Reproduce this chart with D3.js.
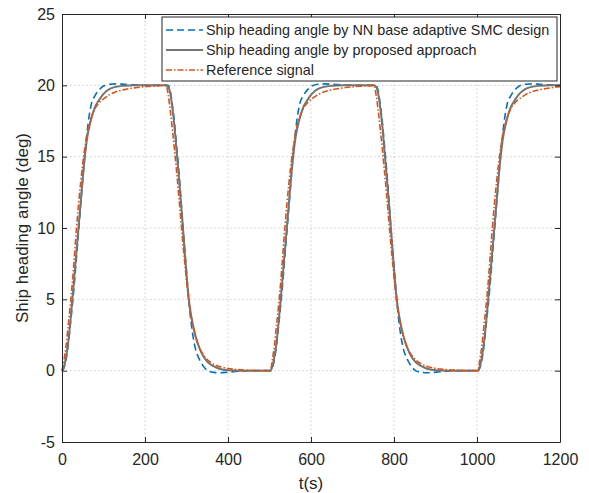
<!DOCTYPE html>
<html>
<head>
<meta charset="utf-8">
<script src="https://cdn.jsdelivr.net/npm/d3@7"></script>
<style>
  body { margin: 0; background: #fff; }
  svg { font-family: "Liberation Sans", Arial, sans-serif; }
</style>
</head>
<body>
<div id="chart"></div>
<script>
// time axis (s), shared by the three series
const timeS = [
  0, 5, 10, 15, 20, 25, 30, 35, 40, 45, 50, 55, 60, 70, 80, 90, 100, 115, 130, 150, 175, 200, 225,
  251, 256, 261, 266, 271, 276, 281, 286, 291, 296, 301, 306, 311, 321, 331, 341, 351, 366, 381, 401, 426, 451, 476,
  502, 507, 512, 517, 522, 527, 532, 537, 542, 547, 552, 557, 562, 572, 582, 592, 602, 617, 632, 652, 677, 702, 727,
  752, 757, 762, 767, 772, 777, 782, 787, 792, 797, 802, 807, 812, 822, 832, 842, 852, 867, 882, 902, 927, 952, 977,
  1002, 1007, 1012, 1017, 1022, 1027, 1032, 1037, 1042, 1047, 1052, 1057, 1062, 1072, 1082, 1092, 1102, 1117, 1132, 1152, 1177, 1200
];

// NN base adaptive SMC design (deg)
const nnSmc = [
  0, 0.2, 0.8, 1.8, 3.2, 4.6, 6.2, 8.0, 9.8, 11.6, 13.4, 15.1, 16.6, 18.6, 19.3, 19.7, 19.95, 20.08, 20.1, 20.07, 20.03, 20, 20,
  20, 20, 19.6, 18.6, 17.4, 15.8, 14.2, 12.3, 10.2, 8.4, 6.6, 4.8, 3.4, 1.6, 0.8, 0.3, 0, -0.12, -0.15, -0.1, -0.04, 0, 0,
  0, 0.2, 0.8, 1.8, 3.2, 4.6, 6.2, 8.0, 9.8, 11.6, 13.4, 15.1, 16.6, 18.6, 19.3, 19.7, 19.95, 20.08, 20.1, 20.07, 20.03, 20, 20,
  20, 20, 19.6, 18.6, 17.4, 15.8, 14.2, 12.3, 10.2, 8.4, 6.6, 4.8, 3.4, 1.6, 0.8, 0.3, 0, -0.12, -0.15, -0.1, -0.04, 0, 0,
  0, 0.2, 0.8, 1.8, 3.2, 4.6, 6.2, 8.0, 9.8, 11.6, 13.4, 15.1, 16.6, 18.6, 19.3, 19.7, 19.95, 20.08, 20.1, 20.07, 20.03, 20
];

// proposed approach (deg)
const proposed = [
  0, 0.3, 1.0, 2.0, 3.4, 5.0, 6.7, 8.4, 10.1, 11.8, 13.5, 15.0, 16.2, 17.6, 18.5, 19.0, 19.4, 19.75, 19.9, 19.97, 20, 20, 20,
  20, 19.9, 19.4, 18.4, 17.1, 15.4, 13.8, 12.0, 10.2, 8.2, 6.4, 4.9, 3.9, 2.5, 1.6, 1.0, 0.6, 0.3, 0.12, 0.03, 0, 0, 0,
  0, 0.3, 1.0, 2.0, 3.4, 5.0, 6.7, 8.4, 10.1, 11.8, 13.5, 15.0, 16.2, 17.6, 18.5, 19.0, 19.4, 19.75, 19.9, 19.97, 20, 20, 20,
  20, 19.9, 19.4, 18.4, 17.1, 15.4, 13.8, 12.0, 10.2, 8.2, 6.4, 4.9, 3.9, 2.5, 1.6, 1.0, 0.6, 0.3, 0.12, 0.03, 0, 0, 0,
  0, 0.3, 1.0, 2.0, 3.4, 5.0, 6.7, 8.4, 10.1, 11.8, 13.5, 15.0, 16.2, 17.6, 18.5, 19.0, 19.4, 19.75, 19.9, 19.97, 20, 20
];

// reference signal (deg)
const reference = [
  0, 0.8, 1.8, 3.2, 4.6, 6.2, 8.1, 10.0, 11.7, 13.2, 14.5, 15.6, 16.5, 17.7, 18.4, 18.8, 19.05, 19.35, 19.55, 19.7, 19.82, 19.9, 19.95,
  20, 19.3, 18.2, 16.9, 15.5, 14.0, 12.4, 10.7, 9.0, 7.5, 6.0, 4.8, 3.8, 2.5, 1.6, 1.1, 0.75, 0.45, 0.28, 0.15, 0.07, 0.03, 0.01,
  0, 0.8, 1.8, 3.2, 4.6, 6.2, 8.1, 10.0, 11.7, 13.2, 14.5, 15.6, 16.5, 17.7, 18.4, 18.8, 19.05, 19.35, 19.55, 19.7, 19.82, 19.9, 19.95,
  20, 19.3, 18.2, 16.9, 15.5, 14.0, 12.4, 10.7, 9.0, 7.5, 6.0, 4.8, 3.8, 2.5, 1.6, 1.1, 0.75, 0.45, 0.28, 0.15, 0.07, 0.03, 0.01,
  0, 0.8, 1.8, 3.2, 4.6, 6.2, 8.1, 10.0, 11.7, 13.2, 14.5, 15.6, 16.5, 17.7, 18.4, 18.8, 19.05, 19.35, 19.55, 19.7, 19.82, 19.9
];

const xTicks = [0, 200, 400, 600, 800, 1000, 1200];
const yTicks = [-5, 0, 5, 10, 15, 20, 25];
const seriesNames = [
  'Ship heading angle by NN base adaptive SMC design',
  'Ship heading angle by proposed approach',
  'Reference signal'
];

const width = 589;
const height = 493;
const margin = { top: 14, right: 29, bottom: 51, left: 62 };

const svg = d3.select('#chart')
  .append('svg')
  .attr('width', width)
  .attr('height', height);

const x = d3.scaleLinear().domain([0, 1200]).range([margin.left, width - margin.right]);
const y = d3.scaleLinear().domain([-5, 25]).range([height - margin.bottom, margin.top]);

const axisColor = '#262626';

// grid
const grid = svg.append('g').attr('stroke', '#cccccc').attr('stroke-width', 1).attr('stroke-dasharray', '1.5,2.5');
grid.selectAll('.gx').data(xTicks.slice(1, -1)).enter().append('line')
  .attr('x1', (d) => x(d)).attr('x2', (d) => x(d))
  .attr('y1', y(-5)).attr('y2', y(25));
grid.selectAll('.gy').data(yTicks.slice(1, -1)).enter().append('line')
  .attr('x1', x(0)).attr('x2', x(1200))
  .attr('y1', (d) => y(d)).attr('y2', (d) => y(d));

// series
const series = [
  { values: nnSmc, color: '#0072BD', dash: '7,4', w: 1.6 },
  { values: proposed, color: '#747474', dash: null, w: 2 },
  { values: reference, color: '#D95319', dash: '6,2,1.5,2', w: 1.6 }
];

const line = d3.line()
  .x((d) => x(d[0]))
  .y((d) => y(d[1]))
  .curve(d3.curveMonotoneX);

series.forEach((s) => {
  svg.append('path')
    .datum(timeS.map((t, i) => [t, s.values[i]]))
    .attr('fill', 'none')
    .attr('stroke', s.color)
    .attr('stroke-width', s.w)
    .attr('stroke-dasharray', s.dash)
    .attr('d', line);
});

// axes (box with inward ticks on all sides)
const tickFmt = (d) => d;
svg.append('g')
  .attr('transform', `translate(0,${y(-5)})`)
  .call(d3.axisBottom(x).tickValues(xTicks).tickSizeInner(-5).tickSizeOuter(0).tickPadding(12).tickFormat(tickFmt));
svg.append('g')
  .attr('transform', `translate(0,${y(25)})`)
  .call(d3.axisTop(x).tickValues(xTicks).tickSizeInner(-5).tickSizeOuter(0).tickFormat(''));
svg.append('g')
  .attr('transform', `translate(${x(0)},0)`)
  .call(d3.axisLeft(y).tickValues(yTicks).tickSizeInner(-5).tickSizeOuter(0).tickPadding(7).tickFormat(tickFmt));
svg.append('g')
  .attr('transform', `translate(${x(1200)},0)`)
  .call(d3.axisRight(y).tickValues(yTicks).tickSizeInner(-5).tickSizeOuter(0).tickFormat(''));

svg.selectAll('.domain').attr('stroke', axisColor);
svg.selectAll('.tick line').attr('stroke', axisColor);
svg.selectAll('.tick text').attr('fill', axisColor).style('font-size', '16px');

// axis labels
svg.append('text')
  .attr('x', (x(0) + x(1200)) / 2)
  .attr('y', 489)
  .attr('text-anchor', 'middle')
  .attr('fill', axisColor)
  .style('font-size', '17px')
  .text('t(s)');

svg.append('text')
  .attr('transform', `translate(28,${(y(-5) + y(25)) / 2}) rotate(-90)`)
  .attr('text-anchor', 'middle')
  .attr('fill', axisColor)
  .style('font-size', '17px')
  .text('Ship heading angle (deg)');

// legend
const legend = svg.append('g');
legend.append('rect')
  .attr('x', 162).attr('y', 17)
  .attr('width', 395).attr('height', 64)
  .attr('fill', '#fff')
  .attr('stroke', axisColor)
  .attr('stroke-width', 1);

series.forEach((s, i) => {
  const ly = 30 + i * 20;
  legend.append('line')
    .attr('x1', 166).attr('x2', 203)
    .attr('y1', ly).attr('y2', ly)
    .attr('stroke', s.color)
    .attr('stroke-width', s.w)
    .attr('stroke-dasharray', s.dash);
  legend.append('text')
    .attr('x', 206).attr('y', ly + 5)
    .attr('fill', axisColor)
    .style('font-size', '14.4px')
    .text(seriesNames[i]);
});
</script>
</body>
</html>
